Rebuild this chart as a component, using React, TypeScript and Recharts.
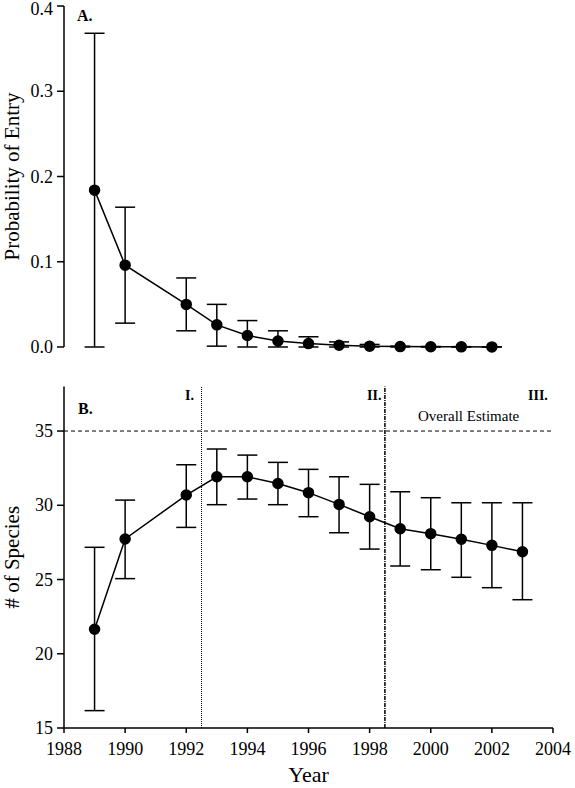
import React from "react";
import {
  ComposedChart,
  Line,
  XAxis,
  YAxis,
  ErrorBar,
  ReferenceLine,
  Label,
} from "recharts";

const entryYears = [1989, 1990, 1992, 1993, 1994, 1995, 1996, 1997, 1998, 1999, 2000, 2001, 2002];
const entryProb = [0.184, 0.096, 0.05, 0.026, 0.0135, 0.007, 0.004, 0.002, 0.001, 0.0005, 0.0003, 0.0002, 0.0001];
const entryLow = [0.0, 0.028, 0.019, 0.001, 0.0, 0.0, 0.0, 0.0, 0.0, 0.0, 0.0, 0.0, 0.0];
const entryHigh = [0.368, 0.164, 0.081, 0.05, 0.031, 0.019, 0.012, 0.006, 0.003, 0.001, 0.0006, 0.0004, 0.0002];

const speciesYears = [1989, 1990, 1992, 1993, 1994, 1995, 1996, 1997, 1998, 1999, 2000, 2001, 2002, 2003];
const speciesCount = [21.65, 27.73, 30.69, 31.92, 31.92, 31.47, 30.85, 30.06, 29.23, 28.42, 28.09, 27.71, 27.3, 26.87];
const speciesLow = [16.17, 25.06, 28.51, 30.04, 30.42, 30.04, 29.23, 28.15, 27.05, 25.91, 25.66, 25.15, 24.45, 23.64];
const speciesHigh = [27.17, 30.35, 32.73, 33.79, 33.38, 32.89, 32.42, 31.92, 31.41, 30.91, 30.51, 30.17, 30.17, 30.17];

const xTicks = [1988, 1990, 1992, 1994, 1996, 1998, 2000, 2002, 2004];
const entryTicks = [0, 0.1, 0.2, 0.3, 0.4];
const speciesTicks = [15, 20, 25, 30, 35];
const overallEstimate = 35;
const periodBreaks = [1992.5, 1998.5];

const entryData = entryYears.map((y, i) => ({
  year: y,
  value: entryProb[i],
  err: [entryProb[i] - entryLow[i], entryHigh[i] - entryProb[i]],
}));

const speciesData = speciesYears.map((y, i) => ({
  year: y,
  value: speciesCount[i],
  err: [speciesCount[i] - speciesLow[i], speciesHigh[i] - speciesCount[i]],
}));

const FONT = "'Liberation Serif', 'Times New Roman', serif";

const XTick = (props: any) => {
  const { x, y, payload } = props;
  return (
    <text x={x} y={y + 20} textAnchor="middle" fontFamily={FONT} fontSize={18} fill="#000">
      {payload.value}
    </text>
  );
};

const makeYTick = (fmt: (v: number) => string) => (props: any) => {
  const { x, y, payload } = props;
  return (
    <text x={x - 2} y={y + 6} textAnchor="end" fontFamily={FONT} fontSize={18} fill="#000">
      {fmt(payload.value)}
    </text>
  );
};

const EntryYTick = makeYTick((v) => v.toFixed(1));
const SpeciesYTick = makeYTick((v) => String(v));

const makeYLabel = (text: string) => (props: any) => {
  const vb = props.viewBox || {};
  const cy = vb.y + vb.height / 2;
  const cx = 19;
  return (
    <text
      x={cx}
      y={cy}
      transform={`rotate(-90, ${cx}, ${cy})`}
      textAnchor="middle"
      fontFamily={FONT}
      fontSize={21}
      fill="#000"
    >
      {text}
    </text>
  );
};

export default function App() {
  return (
    <div style={{ position: "absolute", left: 0, top: 0, width: 575, height: 788, background: "#fff", fontFamily: FONT }}>
      <div style={{ position: "absolute", left: 0, top: 0 }}>
        <ComposedChart
          width={575}
          height={360}
          data={entryData}
          margin={{ top: 6, right: 22, bottom: 13, left: 0 }}
        >
          <XAxis
            dataKey="year"
            type="number"
            domain={[1988, 2004]}
            ticks={xTicks}
            tick={() => <g />}
            height={0}
            stroke="#000"
            strokeWidth={1.5}
            tickSize={5}
          />
          <YAxis
            type="number"
            domain={[0, 0.4]}
            ticks={entryTicks}
            tick={EntryYTick}
            width={64}
            stroke="#000"
            strokeWidth={1.5}
            tickSize={7}
          >
            <Label content={makeYLabel("Probability of Entry")} />
          </YAxis>
          <Line
            dataKey="value"
            stroke="#000"
            strokeWidth={1.5}
            dot={{ r: 5, fill: "#000", stroke: "#000" }}
            isAnimationActive={false}
          >
            <ErrorBar dataKey="err" width={10} stroke="#000" strokeWidth={1.5} direction="y" />
          </Line>
        </ComposedChart>
        <div style={{ position: "absolute", left: 77, top: 7, fontSize: 16, fontWeight: "bold" }}>A.</div>
      </div>

      <div style={{ position: "absolute", left: 0, top: 360 }}>
        <ComposedChart
          width={575}
          height={428}
          data={speciesData}
          margin={{ top: 26.5, right: 22, bottom: 0, left: 0 }}
        >
          <XAxis
            dataKey="year"
            type="number"
            domain={[1988, 2004]}
            ticks={xTicks}
            tick={XTick}
            height={60}
            stroke="#000"
            strokeWidth={1.5}
            tickSize={5}
          >
            <Label
              value="Year"
              position="insideBottom"
              offset={6}
              style={{ fontFamily: FONT, fontSize: 22, fill: "#000" }}
            />
          </XAxis>
          <YAxis
            type="number"
            domain={[15, 38]}
            ticks={speciesTicks}
            tick={SpeciesYTick}
            width={64}
            stroke="#000"
            strokeWidth={1.5}
            tickSize={7}
          >
            <Label content={makeYLabel("# of Species")} />
          </YAxis>
          <ReferenceLine y={overallEstimate} stroke="#000" strokeWidth={1} strokeDasharray="4 3" />
          <ReferenceLine x={periodBreaks[0]} stroke="#000" strokeWidth={1} strokeDasharray="1 1" />
          <ReferenceLine x={periodBreaks[1]} stroke="#000" strokeWidth={1.5} strokeDasharray="4 1 1 1" />
          <Line
            dataKey="value"
            stroke="#000"
            strokeWidth={1.5}
            dot={{ r: 5, fill: "#000", stroke: "#000" }}
            isAnimationActive={false}
          >
            <ErrorBar dataKey="err" width={10} stroke="#000" strokeWidth={1.5} direction="y" />
          </Line>
        </ComposedChart>
        <div style={{ position: "absolute", left: 78, top: 40, fontSize: 16, fontWeight: "bold" }}>B.</div>
        <div style={{ position: "absolute", left: 185, top: 28, fontSize: 14, fontWeight: "bold" }}>I.</div>
        <div style={{ position: "absolute", left: 367, top: 28, fontSize: 14, fontWeight: "bold" }}>II.</div>
        <div style={{ position: "absolute", left: 528, top: 28, fontSize: 14, fontWeight: "bold" }}>III.</div>
        <div style={{ position: "absolute", left: 418, top: 48, fontSize: 15 }}>Overall Estimate</div>
      </div>
    </div>
  );
}
